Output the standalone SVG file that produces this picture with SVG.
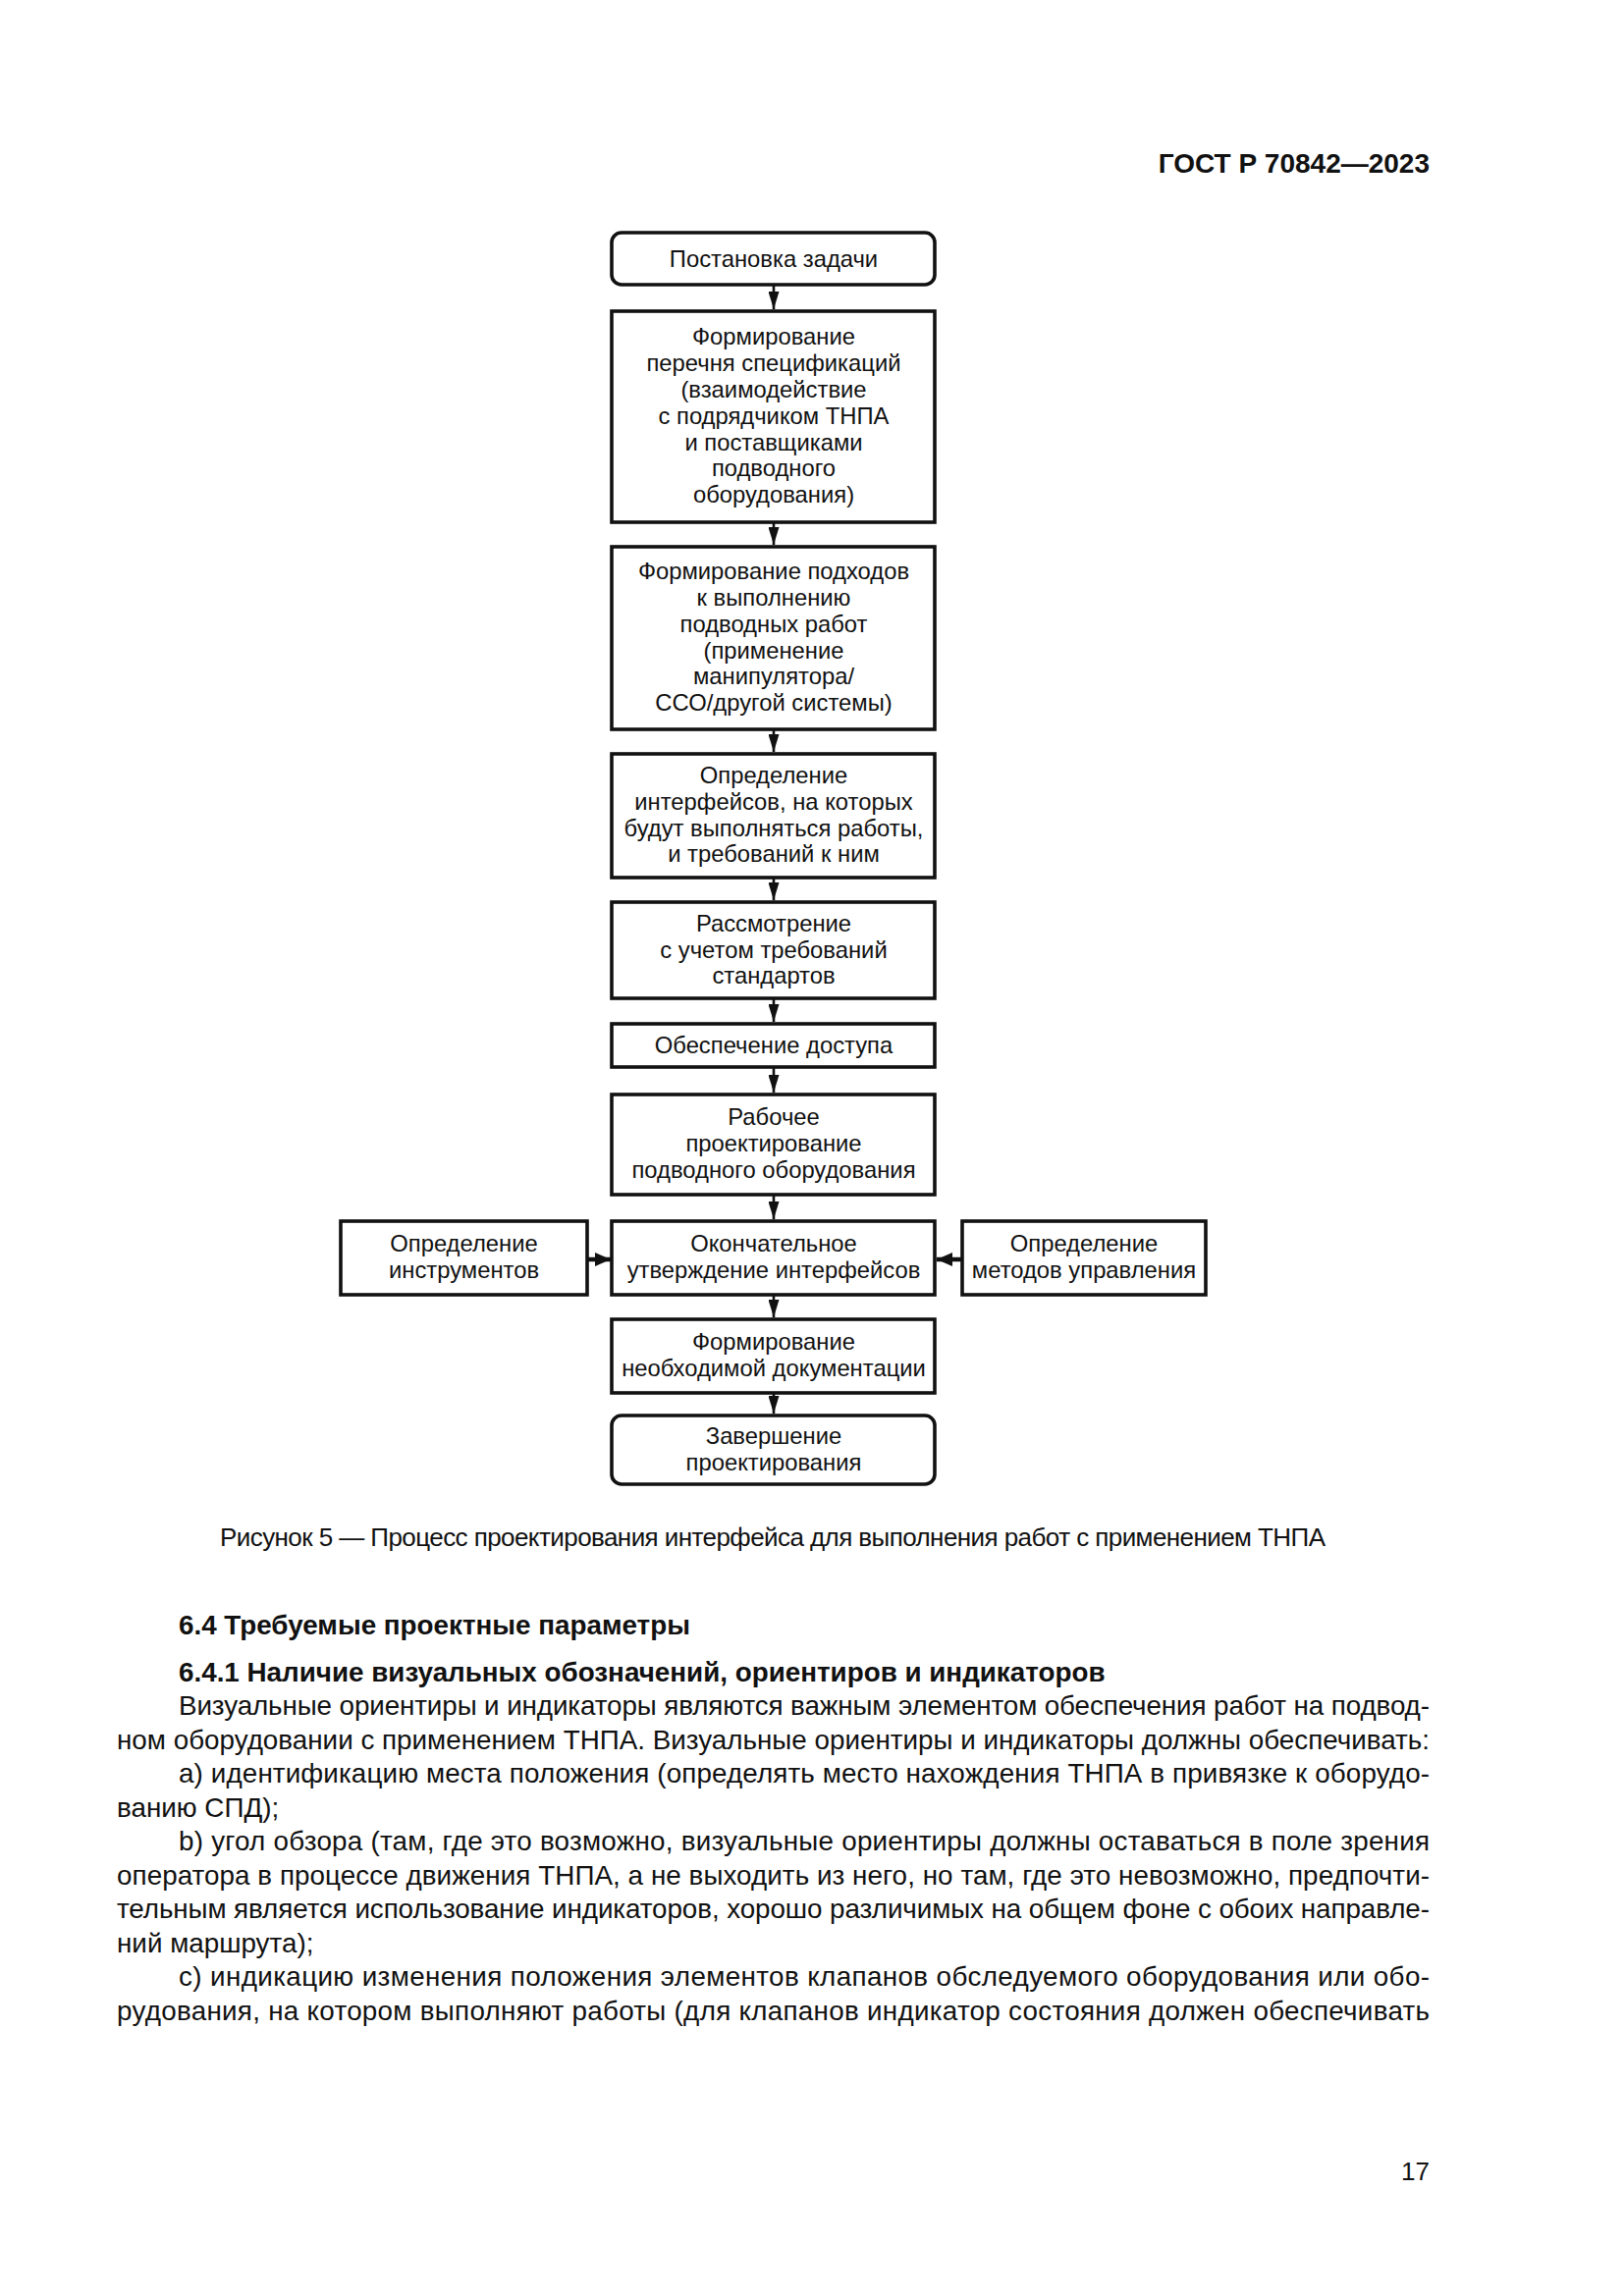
<svg xmlns="http://www.w3.org/2000/svg" width="1654" height="2339" viewBox="0 0 1654 2339">
<style>
.bx{fill:#fff;stroke:#111;stroke-width:3.6}
.bt{font-family:"Liberation Sans",Arial,sans-serif;font-size:23.8px;fill:#111;text-anchor:middle}
.ln{stroke:#111;stroke-width:2.6;fill:none}
.ls{stroke:#111;stroke-width:4.5;fill:none}
.tx{font-family:"Liberation Sans",Arial,sans-serif;font-size:27.8px;fill:#111}
.hd{font-family:"Liberation Sans",Arial,sans-serif;font-size:27.8px;font-weight:bold;fill:#111}
</style>
<defs>
<marker id="ah" markerUnits="userSpaceOnUse" markerWidth="18" markerHeight="11" refX="18" refY="5.5" orient="auto" viewBox="0 0 18 11">
<path d="M0,0 L18,5.5 L0,11 Z" fill="#111"/>
</marker>
<marker id="ahs" markerUnits="userSpaceOnUse" markerWidth="16" markerHeight="14" refX="16" refY="7" orient="auto" viewBox="0 0 16 14">
<path d="M0,0 L16,7 L0,14 Z" fill="#111"/>
</marker>
</defs>
<rect width="1654" height="2339" fill="#fff"/>

<text class="hd" x="1456" y="176" text-anchor="end" style="font-size:28px">ГОСТ Р 70842—2023</text>

<g id="connectors">
<line class="ln" x1="788" y1="290" x2="788" y2="315" marker-end="url(#ah)"/>
<line class="ln" x1="788" y1="532" x2="788" y2="555" marker-end="url(#ah)"/>
<line class="ln" x1="788" y1="743" x2="788" y2="766" marker-end="url(#ah)"/>
<line class="ln" x1="788" y1="894" x2="788" y2="917" marker-end="url(#ah)"/>
<line class="ln" x1="788" y1="1017" x2="788" y2="1041" marker-end="url(#ah)"/>
<line class="ln" x1="788" y1="1087" x2="788" y2="1113" marker-end="url(#ah)"/>
<line class="ln" x1="788" y1="1217" x2="788" y2="1242" marker-end="url(#ah)"/>
<line class="ln" x1="788" y1="1319" x2="788" y2="1342" marker-end="url(#ah)"/>
<line class="ln" x1="788" y1="1419" x2="788" y2="1440" marker-end="url(#ah)"/>
<line class="ls" x1="598" y1="1283" x2="622" y2="1283" marker-end="url(#ahs)"/>
<line class="ls" x1="980" y1="1283" x2="954" y2="1283" marker-end="url(#ahs)"/>
</g>

<g id="n1">
<rect class="bx" x="623" y="237" width="329" height="53" rx="10"/>
<text class="bt" x="788" y="271.5">Постановка задачи</text>
</g>
<g id="n2">
<rect class="bx" x="623" y="317" width="329" height="215"/>
<text class="bt" x="788" y="351">Формирование</text>
<text class="bt" x="788" y="378">перечня спецификаций</text>
<text class="bt" x="788" y="405">(взаимодействие</text>
<text class="bt" x="788" y="431.5">с подрядчиком ТНПА</text>
<text class="bt" x="788" y="458.5">и поставщиками</text>
<text class="bt" x="788" y="485">подводного</text>
<text class="bt" x="788" y="512">оборудования)</text>
</g>
<g id="n3">
<rect class="bx" x="623" y="557" width="329" height="186"/>
<text class="bt" x="788" y="590">Формирование подходов</text>
<text class="bt" x="788" y="617">к выполнению</text>
<text class="bt" x="788" y="643.5">подводных работ</text>
<text class="bt" x="788" y="670.5">(применение</text>
<text class="bt" x="788" y="697">манипулятора/</text>
<text class="bt" x="788" y="724">ССО/другой системы)</text>
</g>
<g id="n4">
<rect class="bx" x="623" y="768" width="329" height="126"/>
<text class="bt" x="788" y="798">Определение</text>
<text class="bt" x="788" y="825">интерфейсов, на которых</text>
<text class="bt" x="788" y="851.5">будут выполняться работы,</text>
<text class="bt" x="788" y="878">и требований к ним</text>
</g>
<g id="n5">
<rect class="bx" x="623" y="919" width="329" height="98"/>
<text class="bt" x="788" y="949">Рассмотрение</text>
<text class="bt" x="788" y="976">с учетом требований</text>
<text class="bt" x="788" y="1002">стандартов</text>
</g>
<g id="n6">
<rect class="bx" x="623" y="1043" width="329" height="44"/>
<text class="bt" x="788" y="1073">Обеспечение доступа</text>
</g>
<g id="n7">
<rect class="bx" x="623" y="1115" width="329" height="102"/>
<text class="bt" x="788" y="1146">Рабочее</text>
<text class="bt" x="788" y="1173">проектирование</text>
<text class="bt" x="788" y="1200">подводного оборудования</text>
</g>
<g id="n8">
<rect class="bx" x="623" y="1244" width="329" height="75"/>
<text class="bt" x="788" y="1275">Окончательное</text>
<text class="bt" x="788" y="1302">утверждение интерфейсов</text>
</g>
<g id="n8l">
<rect class="bx" x="347" y="1244" width="251" height="75"/>
<text class="bt" x="472.5" y="1275">Определение</text>
<text class="bt" x="472.5" y="1302">инструментов</text>
</g>
<g id="n8r">
<rect class="bx" x="980" y="1244" width="248" height="75"/>
<text class="bt" x="1104" y="1275">Определение</text>
<text class="bt" x="1104" y="1302">методов управления</text>
</g>
<g id="n9">
<rect class="bx" x="623" y="1344" width="329" height="75"/>
<text class="bt" x="788" y="1375">Формирование</text>
<text class="bt" x="788" y="1402">необходимой документации</text>
</g>
<g id="n10">
<rect class="bx" x="623" y="1442" width="329" height="70" rx="10"/>
<text class="bt" x="788" y="1470.5">Завершение</text>
<text class="bt" x="788" y="1497.5">проектирования</text>
</g>

<text class="tx" x="224" y="1575" style="font-size:26px" textLength="1126" lengthAdjust="spacing">Рисунок 5 — Процесс проектирования интерфейса для выполнения работ с применением ТНПА</text>

<text class="hd" x="182" y="1665">6.4 Требуемые проектные параметры</text>
<text class="hd" x="182" y="1713">6.4.1 Наличие визуальных обозначений, ориентиров и индикаторов</text>
<text class="tx" x="182" y="1747" textLength="1274" lengthAdjust="spacing">Визуальные ориентиры и индикаторы являются важным элементом обеспечения работ на подвод-</text>
<text class="tx" x="119" y="1781.5" textLength="1337" lengthAdjust="spacing">ном оборудовании с применением ТНПА. Визуальные ориентиры и индикаторы должны обеспечивать:</text>
<text class="tx" x="182" y="1816" textLength="1274" lengthAdjust="spacing">a) идентификацию места положения (определять место нахождения ТНПА в привязке к оборудо-</text>
<text class="tx" x="119" y="1850.5">ванию СПД);</text>
<text class="tx" x="182" y="1885" textLength="1274" lengthAdjust="spacing">b) угол обзора (там, где это возможно, визуальные ориентиры должны оставаться в поле зрения</text>
<text class="tx" x="119" y="1919.5" textLength="1337" lengthAdjust="spacing">оператора в процессе движения ТНПА, а не выходить из него, но там, где это невозможно, предпочти-</text>
<text class="tx" x="119" y="1954" textLength="1337" lengthAdjust="spacing">тельным является использование индикаторов, хорошо различимых на общем фоне с обоих направле-</text>
<text class="tx" x="119" y="1988.5">ний маршрута);</text>
<text class="tx" x="182" y="2023" textLength="1274" lengthAdjust="spacing">c) индикацию изменения положения элементов клапанов обследуемого оборудования или обо-</text>
<text class="tx" x="119" y="2057.5" textLength="1337" lengthAdjust="spacing">рудования, на котором выполняют работы (для клапанов индикатор состояния должен обеспечивать</text>

<text class="tx" x="1456" y="2221" text-anchor="end" style="font-size:26px">17</text>
</svg>
